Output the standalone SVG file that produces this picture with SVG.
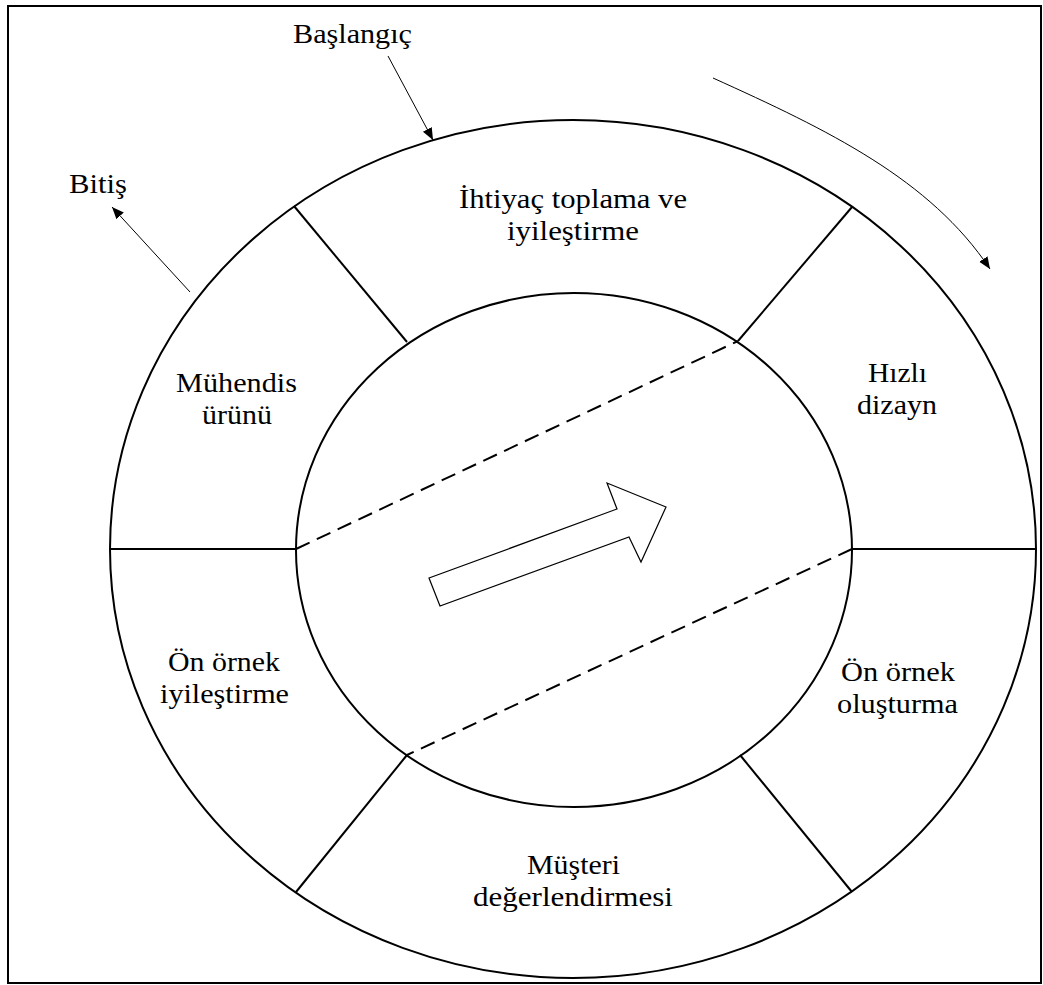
<svg xmlns="http://www.w3.org/2000/svg" width="1043" height="985" viewBox="0 0 1043 985">
  <defs>
    <marker id="head" markerUnits="userSpaceOnUse" markerWidth="13" markerHeight="11" refX="12" refY="5" orient="auto">
      <path d="M0,0 L12,5 L0,10 z" fill="#000"/>
    </marker>
  </defs>
  <style>
    .frame { fill: #fff; stroke: #000; stroke-width: 2; }
    .ring { fill: none; stroke: #000; stroke-width: 2; }
    .div { stroke: #000; stroke-width: 2; fill: none; }
    .dash { stroke: #000; stroke-width: 2; stroke-dasharray: 15 8; fill: none; }
    .thin { stroke: #000; stroke-width: 1; fill: none; }
    .big { fill: #fff; stroke: #000; stroke-width: 1.2; stroke-linejoin: miter; }
    .lbl { font-family: 'Liberation Serif', 'Times New Roman', serif; font-size: 27.5px; fill: #000; }
  </style>

  <!-- page frame -->
  <rect class="frame" x="8" y="6" width="1033" height="977"/>

  <!-- rings -->
  <g id="rings">
    <ellipse class="ring" cx="573" cy="549" rx="463" ry="429"/>
    <ellipse class="ring" cx="574" cy="550" rx="278" ry="257"/>
  </g>

  <!-- sector dividers, inner dashed chords and flow arrows -->
  <g id="connectors">
    <line class="div" x1="294" y1="206" x2="407" y2="342"/>
    <line class="div" x1="852" y1="207" x2="738" y2="341"/>
    <line class="div" x1="110" y1="549" x2="296" y2="549"/>
    <line class="div" x1="852" y1="549" x2="1036" y2="549"/>
    <line class="div" x1="296" y1="892" x2="407" y2="755"/>
    <line class="div" x1="852" y1="892" x2="740" y2="755"/>
    <line class="dash" x1="296" y1="549" x2="738" y2="341"/>
    <line class="dash" x1="852" y1="549" x2="407" y2="755"/>
    <line class="thin" x1="388" y1="56" x2="433" y2="140" marker-end="url(#head)"/>
    <line class="thin" x1="190" y1="292" x2="112" y2="207" marker-end="url(#head)"/>
    <path class="thin" d="M713,78 C828,130 930,179 990,269" marker-end="url(#head)"/>
    <polygon class="big" points="429,578 617,509 607,483 666,507 641,562 629,537 440,606"/>
  </g>

  <g class="lbl">
    <g id="start-label">
      <text x="293" y="43" textLength="119" lengthAdjust="spacingAndGlyphs">Başlangıç</text>
    </g>
    <g id="end-label">
      <text x="69" y="193" textLength="58" lengthAdjust="spacingAndGlyphs">Bitiş</text>
    </g>
    <g id="node-requirements">
      <text x="459" y="208" textLength="228" lengthAdjust="spacingAndGlyphs">İhtiyaç toplama ve</text>
      <text x="507" y="240" textLength="132" lengthAdjust="spacingAndGlyphs">iyileştirme</text>
    </g>
    <g id="node-quick-design">
      <text x="868" y="382" textLength="59" lengthAdjust="spacingAndGlyphs">Hızlı</text>
      <text x="857" y="414" textLength="80" lengthAdjust="spacingAndGlyphs">dizayn</text>
    </g>
    <g id="node-build-prototype">
      <text x="841" y="681" textLength="114" lengthAdjust="spacingAndGlyphs">Ön örnek</text>
      <text x="837" y="713" textLength="121" lengthAdjust="spacingAndGlyphs">oluşturma</text>
    </g>
    <g id="node-customer-evaluation">
      <text x="527" y="874" textLength="93" lengthAdjust="spacingAndGlyphs">Müşteri</text>
      <text x="473" y="906" textLength="200" lengthAdjust="spacingAndGlyphs">değerlendirmesi</text>
    </g>
    <g id="node-refine-prototype">
      <text x="168" y="671" textLength="112" lengthAdjust="spacingAndGlyphs">Ön örnek</text>
      <text x="160" y="703" textLength="129" lengthAdjust="spacingAndGlyphs">iyileştirme</text>
    </g>
    <g id="node-engineer-product">
      <text x="176" y="392" textLength="121" lengthAdjust="spacingAndGlyphs">Mühendis</text>
      <text x="202" y="424" textLength="70" lengthAdjust="spacingAndGlyphs">ürünü</text>
    </g>
  </g>
</svg>
